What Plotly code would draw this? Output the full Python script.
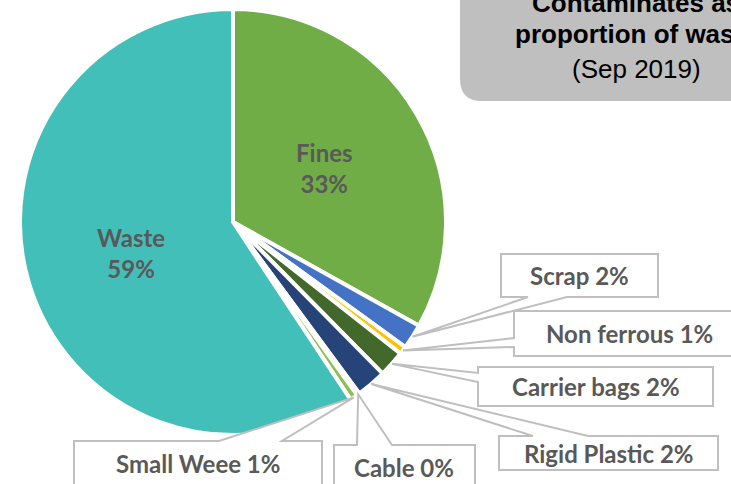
import math
import plotly.graph_objects as go

# ---------------- data ----------------
categories = ["Fines", "Scrap", "Non ferrous", "Carrier bags", "Rigid Plastic",
              "Cable", "Small Weee", "Waste"]
values = [33.1, 1.9, 0.6, 2.0, 2.3, 0.2, 0.6, 59.3]
colors = ["#70AD47", "#4472C4", "#FFC000", "#43682B", "#264478",
          "#7F7F7F", "#8CC152", "#43BFB9"]
inside_labels = ["Fines", "Waste"]
title_lines = ["Contaminates as", "proportion of waste", "(Sep 2019)"]

# ---------------- layout geometry (pixels) ----------------
W, H = 731, 484
CX, CY, R = 233, 222, 213

# callout boxes: x0, y0, x1, y1, edge the wedge leaves from, base1, base2
callouts = {
    "Scrap":         (501, 254, 658, 297, "bottom", 528, 567),
    "Non ferrous":   (514, 311, 745, 356, "left", 338, 347),
    "Carrier bags":  (478, 367, 713, 406, "left", 373, 382),
    "Rigid Plastic": (499, 436, 718, 470, "top", 533, 588),
    "Cable":         (334, 445, 475, 492, "top", 357, 392),
    "Small Weee":    (74, 441, 322, 492, "top", 219, 282),
}

TEXT_COLOR = "#595959"
LINE_COLOR = "#BFBFBF"
LABEL_FONT = "Lato, Open Sans, sans-serif"


def px(x):
    return x / W


def py(y):
    return 1 - y / H


def pt(x, y):
    return f"{px(x):.5f},{py(y):.5f}"


total = sum(values)
mid_angle = {}
cum = 0.0
for c, v in zip(categories, values):
    mid_angle[c] = (cum + v / 2) / total * 2 * math.pi
    cum += v
pct = {c: round(v / total * 100) for c, v in zip(categories, values)}

fig = go.Figure(go.Pie(
    labels=categories, values=values, sort=False, direction="clockwise",
    rotation=0, textinfo="none", hoverinfo="label+percent", showlegend=False,
    marker=dict(colors=colors, line=dict(color="white", width=4)),
    domain=dict(x=[px(CX - R), px(CX + R)], y=[py(CY + R), py(CY - R)]),
))

shapes = []
annotations = []

# title box (rounded bottom-left corner, bleeding off the top/right edges)
RR = 22
tb_x0, tb_y1 = 460, 101
shapes.append(dict(
    type="path", xref="paper", yref="paper", layer="above",
    path=(f"M {pt(tb_x0, -10)} L {pt(tb_x0, tb_y1 - RR)} "
          f"Q {pt(tb_x0, tb_y1)} {pt(tb_x0 + RR, tb_y1)} "
          f"L {pt(760, tb_y1)} L {pt(760, -10)} Z"),
    fillcolor="#BFBFBF", line=dict(width=0),
))
title_y = [3, 34, 69]
for i, (line, yy) in enumerate(zip(title_lines, title_y)):
    annotations.append(dict(
        x=px(636), y=py(yy), xref="paper", yref="paper", xanchor="center",
        yanchor="middle", showarrow=False, text=line,
        font=dict(family="Arial, Liberation Sans, sans-serif", size=26,
                  color="black", weight=700 if i < 2 else 400),
    ))

# inside labels for the big slices
for c in inside_labels:
    a = mid_angle[c]
    lx = CX + 0.5 * R * math.sin(a)
    ly = CY - 0.5 * R * math.cos(a)
    annotations.append(dict(
        x=px(lx), y=py(ly), xref="paper", yref="paper", xanchor="center",
        yanchor="middle", showarrow=False, text=f"{c}<br>{pct[c]}%",
        font=dict(family=LABEL_FONT, size=24, color=TEXT_COLOR, weight=700),
    ))

# wedge callouts for the small slices
for c, (x0, y0, x1, y1, edge, b1, b2) in callouts.items():
    a = mid_angle[c]
    tx = CX + R * math.sin(a)
    ty = CY - R * math.cos(a)
    tip = pt(tx, ty)
    if edge == "bottom":
        path = (f"M {pt(x0, y0)} L {pt(x1, y0)} L {pt(x1, y1)} L {pt(b2, y1)} "
                f"L {tip} L {pt(b1, y1)} L {pt(x0, y1)} Z")
    elif edge == "left":
        path = (f"M {pt(x0, y0)} L {pt(x1, y0)} L {pt(x1, y1)} L {pt(x0, y1)} "
                f"L {pt(x0, b2)} L {tip} L {pt(x0, b1)} Z")
    else:  # top
        path = (f"M {pt(x0, y0)} L {pt(b1, y0)} L {tip} L {pt(b2, y0)} "
                f"L {pt(x1, y0)} L {pt(x1, y1)} L {pt(x0, y1)} Z")
    shapes.append(dict(type="path", xref="paper", yref="paper", layer="above",
                       path=path, fillcolor="white",
                       line=dict(color=LINE_COLOR, width=2)))
    cy_text = (y0 + y1) / 2 if y1 < 480 else y0 + 22
    annotations.append(dict(
        x=px((x0 + min(x1, 745)) / 2), y=py(cy_text), xref="paper", yref="paper",
        xanchor="center", yanchor="middle", showarrow=False,
        text=f"{c} {pct[c]}%",
        font=dict(family=LABEL_FONT, size=24, color=TEXT_COLOR, weight=700),
    ))

fig.update_layout(
    width=W, height=H, margin=dict(l=0, r=0, t=0, b=0),
    paper_bgcolor="white", plot_bgcolor="white",
    shapes=shapes, annotations=annotations,
)

fig.write_html(
    "out.html",
    config={"displayModeBar": False},
    post_script=("document.body.style.margin='0';"
                 "document.body.style.overflow='hidden';"),
)
